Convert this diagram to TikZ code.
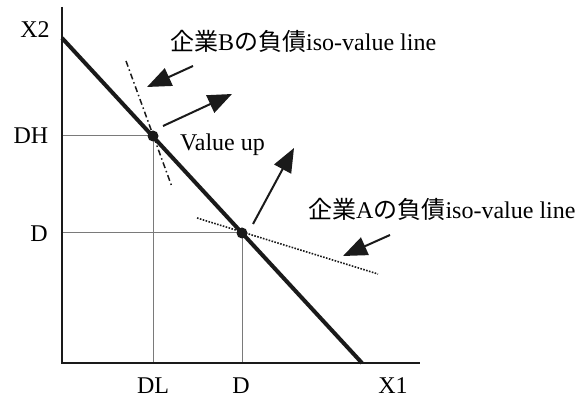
\documentclass[tikz,border=0pt]{standalone}
\usepackage{fontspec}
\setmainfont{Liberation Serif}
\newfontfamily\jpfont{Noto Sans CJK JP}
\usepackage{xcolor}
\usepackage{tikz}
\usetikzlibrary{positioning,arrows.meta}
\definecolor{negro}{HTML}{1A1A1A}
\definecolor{gris}{HTML}{7A7A7A}

\begin{document}
\begin{tikzpicture}[x=1pt, y=1pt, font=\fontsize{24}{28}\selectfont,
  eje/.style={draw=negro, line width=2pt},
  guia/.style={draw=gris, line width=1pt},
  flecha/.style={draw=negro, line width=2pt, -{Triangle[length=24pt, width=19pt]}},
  punto/.style={circle, fill=negro, inner sep=0pt, minimum size=11pt},
  rotulo/.style={inner sep=0pt}]
  \useasboundingbox (-62,-35) rectangle (523,363);
  % ejes
  \coordinate (O) at (0,0);
  \coordinate (ytop) at (0,356);
  \coordinate (xend) at (358,0);
  % restriccion presupuestaria
  \coordinate (r1) at (0,325);
  \coordinate (r2) at (300,0);
  \coordinate (hx) at (91,0);
  \coordinate (hy) at (0,227);
  \coordinate (ax) at (180,0);
  \coordinate (ay) at (0,130);
  % lineas iso-value
  \coordinate (b1) at (64,302);
  \coordinate (b2) at (110,176);
  \coordinate (a1) at (135,145);
  \coordinate (a2) at (316,89);
  % flechas
  \coordinate (fb1) at (131,297);
  \coordinate (fb2) at (85,276);
  \coordinate (v1) at (101,237);
  \coordinate (v2) at (170,269);
  \coordinate (w1) at (191,139);
  \coordinate (w2) at (232,215);
  \coordinate (fa1) at (328,128);
  \coordinate (fa2) at (281,107);

  \draw[guia] (hy) -- (91,227) -- (hx);
  \draw[guia] (ay) -- (180,130) -- (ax);
  \draw[eje] (ytop) -- (O) -- (xend);
  \draw[draw=negro, line width=4pt] (r1) -- (r2);
  \draw[draw=negro, line width=1.5pt, dash pattern=on 6pt off 3pt on 1.5pt off 3pt] (b1) -- (b2);
  \draw[draw=negro, line width=1.6pt, dash pattern=on 1.6pt off 1.4pt] (a1) -- (a2);
  \node[punto] (H) at (91,227) {};
  \node[punto] (A) at (180,130) {};

  \draw[flecha] (fb1) -- (fb2);
  \draw[flecha] (v1) -- (v2);
  \draw[flecha] (w1) -- (w2);
  \draw[flecha] (fa1) -- (fa2);

  \node[rotulo] (x2) at (-27,333) {X2};
  \node[rotulo] (dh) at (-31,227) {DH};
  \node[rotulo] (dy) at (-23,129) {D};
  \node[rotulo] (dl) at (91,-23) {DL};
  \node[rotulo] (dx) at (179,-23) {D};
  \node[rotulo] (x1) at (331,-23) {X1};
  \node[rotulo, anchor=base west] (etb) at (108,312) {{\jpfont 企業}B{\jpfont の負債}iso-value line};
  \node[rotulo, anchor=base west] (up) at (118,212) {Value up};
  \node[rotulo, anchor=base west] (eta) at (246,144) {{\jpfont 企業}A{\jpfont の負債}iso-value line};
\end{tikzpicture}
\end{document}
